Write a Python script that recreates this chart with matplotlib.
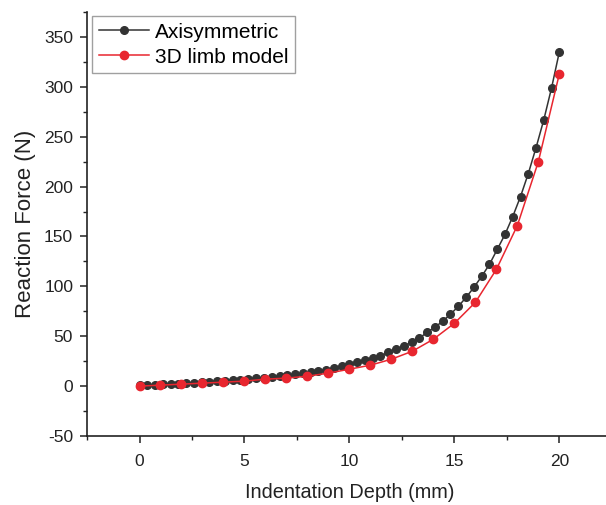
import matplotlib.pyplot as plt
import numpy as np

plt.rcParams['font.family'] = ['Liberation Sans', 'DejaVu Sans']
plt.rcParams['axes.unicode_minus'] = False

# Axisymmetric model (dense output)
depth_axi = [0.00, 0.37, 0.74, 1.11, 1.48, 1.85, 2.22, 2.59, 2.96, 3.33,
             3.70, 4.07, 4.44, 4.81, 5.19, 5.56, 5.93, 6.30, 6.67, 7.04,
             7.41, 7.78, 8.15, 8.52, 8.89, 9.26, 9.63, 10.00, 10.37, 10.74,
             11.11, 11.48, 11.85, 12.22, 12.59, 12.96, 13.33, 13.70, 14.07, 14.44,
             14.81, 15.19, 15.56, 15.93, 16.30, 16.67, 17.04, 17.41, 17.78, 18.15,
             18.52, 18.89, 19.26, 19.63, 20.00]
force_axi = [1.0, 1.2, 1.5, 1.9, 2.2, 2.6, 3.0, 3.4, 3.8, 4.3,
             4.8, 5.3, 5.9, 6.5, 7.1, 7.8, 8.5, 9.2, 10.0, 10.9,
             11.8, 12.8, 14.0, 15.2, 16.6, 18.0, 20.0, 22.0, 24, 26,
             28, 30, 34, 37, 40, 44, 48, 54, 59, 65,
             72, 80, 89, 99, 110, 122, 137, 152, 170, 190,
             213, 239, 267, 299, 335]

# 3D limb model
depth_3d = [0, 1, 2, 3, 4, 5, 6, 7, 8, 9, 10,
            11, 12, 13, 14, 15, 16, 17, 18, 19, 20]
force_3d = [0, 1, 2, 3, 4, 5, 7, 8, 10, 13, 17,
            21, 27, 35, 47, 63, 84, 117, 161, 225, 313]

fig = plt.figure(figsize=(6.06, 5.05), dpi=100)
ax = fig.add_axes([0.1436, 0.1366, 0.866, 0.8396])

ax.plot(depth_axi, force_axi, color='#333333', marker='o', markersize=5.5,
        linewidth=1.1, label='Axisymmetric')
ax.plot(depth_3d, force_3d, color='#e8262f', marker='o', markersize=6,
        linewidth=1.1, label='3D limb model')

ax.set_xlim(-2.5, 22.5)
ax.set_ylim(-50, 375)
ax.set_xticks([0, 5, 10, 15, 20])
ax.set_xticks(np.arange(-2.5, 22.6, 5), minor=True)
ax.set_yticks(np.arange(-50, 351, 50))
ax.set_yticks(np.arange(-25, 376, 50), minor=True)

for s in ['top', 'right']:
    ax.spines[s].set_visible(False)
for s in ['left', 'bottom']:
    ax.spines[s].set_color('#222222')
    ax.spines[s].set_linewidth(1.2)

ax.tick_params(which='major', direction='out', length=5, width=1.1,
               labelsize=12.5, colors='#222222', pad=5)
ax.tick_params(which='minor', direction='out', length=3, width=1.0,
               colors='#222222')
ax.tick_params(axis='x', which='major', pad=8)

ax.set_xlabel('Indentation Depth (mm)', fontsize=14.3, color='#222222', labelpad=10)
ax.set_ylabel('Reaction Force (N)', fontsize=16, color='#222222', labelpad=6)

leg = ax.legend(loc='upper left', bbox_to_anchor=(0.01, 0.99), fontsize=15,
                frameon=True, fancybox=False, handlelength=2.4,
                handletextpad=0.3, borderpad=0.3, labelspacing=0.3,
                borderaxespad=0.0)
leg.get_frame().set_edgecolor('#888888')
leg.get_frame().set_linewidth(1.0)

fig.savefig('out.png', dpi=100)
